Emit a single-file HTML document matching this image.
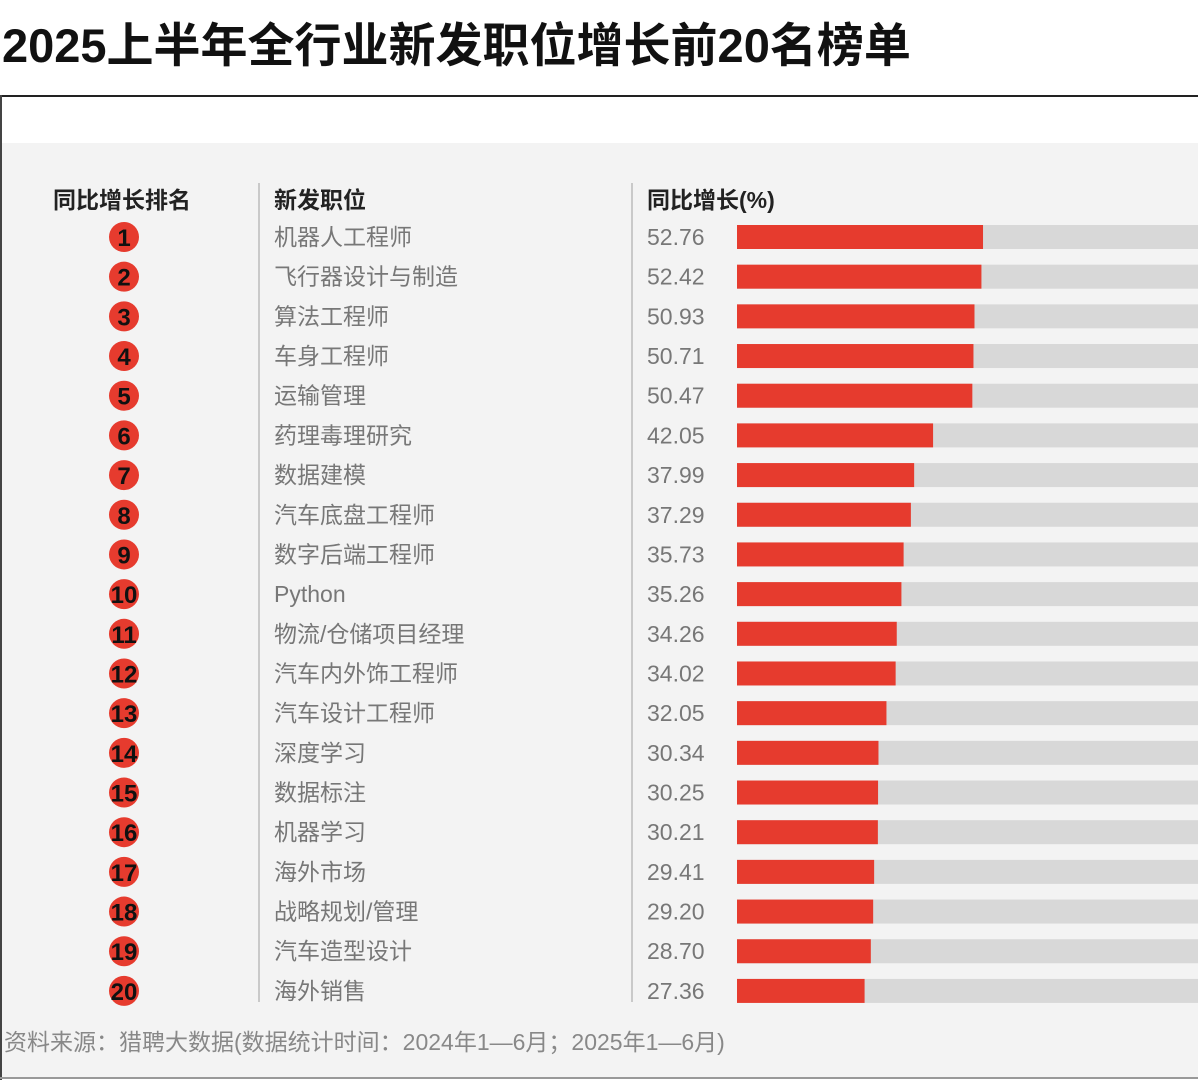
<!DOCTYPE html>
<html><head><meta charset="utf-8"><style>
body{margin:0;width:1198px;height:1080px;background:#fff;overflow:hidden;font-family:"Liberation Sans","Noto Sans CJK SC",sans-serif;position:relative}
.t{position:absolute;white-space:nowrap}
</style></head><body>
<div class="t" style="left:2px;top:16px;font-size:47px;font-weight:bold;color:#111;line-height:60px">2025上半年全行业新发职位增长前20名榜单</div>
<div style="position:absolute;left:0;top:95px;width:1198px;height:2px;background:#222"></div>
<div style="position:absolute;left:0;top:95px;width:2px;height:985px;background:#444"></div>
<div style="position:absolute;left:2px;top:143px;width:1196px;height:935px;background:#f3f3f3"></div>
<div style="position:absolute;left:0;top:1077px;width:1198px;height:2px;background:#999"></div>
<svg id="c" width="1198" height="1080" style="position:absolute;left:0;top:0"></svg>
<div class="t" style="left:4px;top:1026px;font-size:23px;color:#888;line-height:32px">资料来源：猎聘大数据(数据统计时间：2024年1—6月；2025年1—6月)</div>
<script>
const jobs=["机器人工程师","飞行器设计与制造","算法工程师","车身工程师","运输管理","药理毒理研究","数据建模","汽车底盘工程师","数字后端工程师","Python","物流/仓储项目经理","汽车内外饰工程师","汽车设计工程师","深度学习","数据标注","机器学习","海外市场","战略规划/管理","汽车造型设计","海外销售"];
const values=[52.76,52.42,50.93,50.71,50.47,42.05,37.99,37.29,35.73,35.26,34.26,34.02,32.05,30.34,30.25,30.21,29.41,29.20,28.70,27.36];
const headers=["同比增长排名","新发职位","同比增长(%)"];
const svg=document.getElementById('c');const NS='http://www.w3.org/2000/svg';
function mk(tag,a,txt){const e=document.createElementNS(NS,tag);for(const k in a)e.setAttribute(k,a[k]);if(txt!=null)e.textContent=txt;svg.appendChild(e);return e;}
const x0=737,k=4.663,y0=237,step=39.68;
const xs=v=>x0+v*k, ys=i=>y0+i*step;
const hx=[122,274,647],ha=['middle','start','start'];
headers.forEach((h,i)=>{const e=mk('text',{x:hx[i],y:208,'font-size':23,'font-weight':'bold',fill:'#222','text-anchor':ha[i]},h);

});
[259,632].forEach(x=>{const e=mk('line',{x1:x,x2:x,y1:183,y2:1002,stroke:'#bbb','stroke-width':1.5});

});
values.forEach((v,i)=>{const y=ys(i);
const bg=mk('rect',{x:x0,y:y-12,width:1198-x0,height:24,fill:'#d8d8d8'});


const b=mk('rect',{x:x0,y:y-12,width:xs(v)-x0,height:24,fill:'#e63b2e'});


const c=mk('circle',{cx:124,cy:y,r:15,fill:'#e63b2e'});


const r=mk('text',{x:124,y:y+9,'font-size':24,'font-weight':'bold',fill:'#111','text-anchor':'middle'},String(i+1));


const n=mk('text',{x:274,y:y+8,'font-size':23,fill:'#777'},jobs[i]);


const t=mk('text',{x:647,y:y+8,'font-size':23,fill:'#777'},v.toFixed(2));


});
</script>
</body></html>
